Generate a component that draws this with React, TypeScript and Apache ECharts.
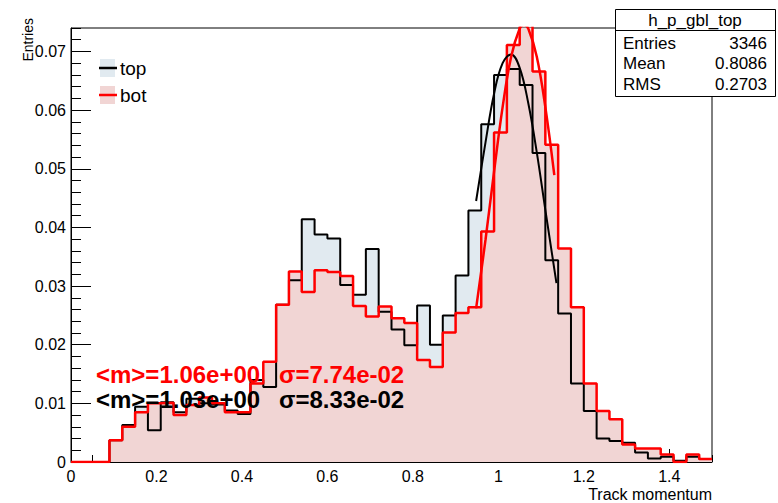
import React, { useEffect, useRef } from "react";
import * as echarts from "echarts";

// Histogram binning (50 bins of 0.03 between 0 and 1.5)
const BIN_WIDTH = 0.03;
const X_MIN = 0;
const X_MAX = 1.5;
const Y_MAX = 0.074;

// Normalised bin contents, "top" histogram (black)
const topValues = [
  0, 0, 0, 0.0037, 0.0063, 0.0094, 0.0054, 0.0102, 0.0085, 0.0108,
  0.0100, 0.0098, 0.0088, 0.0082, 0.0140, 0.0128, 0.0268, 0.0310, 0.0414, 0.0388,
  0.0381, 0.0302, 0.0285, 0.0363, 0.0256, 0.0226, 0.0199, 0.0267, 0.0200, 0.0250,
  0.0318, 0.0429, 0.0576, 0.0660, 0.0670, 0.0643, 0.0527, 0.0344, 0.0253, 0.0134,
  0.0087, 0.0040, 0.0036, 0.0033, 0.0016, 0.0006, 0.0009, 0.0002, 0.0009, 0.0005,
];

// Normalised bin contents, "bot" histogram (red)
const botValues = [
  0, 0, 0, 0.0037, 0.0060, 0.0085, 0.0100, 0.0101, 0.0080, 0.0097,
  0.0110, 0.0100, 0.0085, 0.0085, 0.0134, 0.0171, 0.0268, 0.0325, 0.0290, 0.0327,
  0.0324, 0.0317, 0.0266, 0.0248, 0.0265, 0.0245, 0.0237, 0.0174, 0.0162, 0.0221,
  0.0254, 0.0264, 0.0393, 0.0562, 0.0711, 0.0745, 0.0666, 0.0541, 0.0364, 0.0264,
  0.0134, 0.0087, 0.0073, 0.0030, 0.0023, 0.0023, 0.0013, 0.0000, 0.0013, 0.0005,
];

// Fit curves
const topFitX = [0.948, 0.97, 0.99, 1.01, 1.03, 1.05, 1.07, 1.09, 1.11, 1.136];
const topFitY = [0.0445, 0.0545, 0.0628, 0.068, 0.0695, 0.0672, 0.0612, 0.0528, 0.043, 0.0305];
const botFitX = [0.948, 0.97, 0.99, 1.01, 1.03, 1.05, 1.06, 1.07, 1.09, 1.11, 1.131];
const botFitY = [0.0262, 0.0379, 0.0495, 0.0605, 0.0691, 0.0739, 0.0745, 0.0739, 0.0691, 0.0605, 0.0489];

// Texts
const legendLabels = ["top", "bot"];
const statsTitle = "h_p_gbl_top";
const statsRows = [
  ["Entries", "3346"],
  ["Mean", "0.8086"],
  ["RMS", "0.2703"],
];
const fitTexts = [
  { m: "<m>=1.06e+00", s: "σ=7.74e-02" },
  { m: "<m>=1.03e+00", s: "σ=8.33e-02" },
];
const xTitle = "Track momentum";
const yTitle = "Entries";

const FONT = "'Liberation Sans', Arial, Helvetica, sans-serif";
const TOP_FILL = "#e1eaf0";
const BOT_FILL = "#f1d5d4";
const RED = "#ff0000";

function stepData(vals: number[]) {
  const d: number[][] = vals.map((v, i) => [+(i * BIN_WIDTH).toFixed(4), v]);
  d.push([X_MAX, vals[vals.length - 1]]);
  return d;
}

export default function App() {
  const ref = useRef<HTMLDivElement>(null);
  useEffect(() => {
    if (!ref.current) return;
    const chart = echarts.init(ref.current, undefined, { renderer: "svg" });
    const topData = stepData(topValues);
    const botData = stepData(botValues);
    const axisCommon = {
      axisLine: { show: true, onZero: false, lineStyle: { color: "#000", width: 1 } },
      splitLine: { show: false },
    };
    const graphic: any[] = [];
    // legend
    const legendRows = [
      { y: 68, fill: TOP_FILL, line: "#000" },
      { y: 95, fill: BOT_FILL, line: RED },
    ];
    legendRows.forEach((r, i) => {
      graphic.push({ type: "rect", z: 100, shape: { x: 100, y: r.y - 9, width: 15, height: 18 }, style: { fill: r.fill } });
      graphic.push({ type: "line", z: 101, shape: { x1: 99, y1: r.y, x2: 117, y2: r.y }, style: { stroke: r.line, lineWidth: 2.5 } });
      graphic.push({ type: "text", z: 101, x: 120, y: r.y, style: { text: legendLabels[i], fontSize: 19, fontFamily: FONT, fill: "#000", textVerticalAlign: "middle", textAlign: "left" } });
    });
    // stats box
    graphic.push({ type: "rect", z: 100, shape: { x: 615.5, y: 9.5, width: 160, height: 87 }, style: { fill: "#fff", stroke: "#000", lineWidth: 1 } });
    graphic.push({ type: "line", z: 101, shape: { x1: 615.5, y1: 30.5, x2: 775.5, y2: 30.5 }, style: { stroke: "#000", lineWidth: 1 } });
    graphic.push({ type: "text", z: 101, x: 695, y: 20, style: { text: statsTitle, fontSize: 17, fontFamily: FONT, fill: "#000", textAlign: "center", textVerticalAlign: "middle" } });
    const rowY = [43, 63.5, 84.5];
    statsRows.forEach((r, i) => {
      graphic.push({ type: "text", z: 101, x: 623, y: rowY[i], style: { text: r[0], fontSize: 17, fontFamily: FONT, fill: "#000", textAlign: "left", textVerticalAlign: "middle" } });
      graphic.push({ type: "text", z: 101, x: 767, y: rowY[i], style: { text: r[1], fontSize: 17, fontFamily: FONT, fill: "#000", textAlign: "right", textVerticalAlign: "middle" } });
    });
    // fit texts
    const fitRows = [
      { y: 374, color: RED },
      { y: 399, color: "#000" },
    ];
    fitRows.forEach((r, i) => {
      graphic.push({ type: "text", z: 101, x: 96, y: r.y, style: { text: fitTexts[i].m, fontSize: 24, fontWeight: "bold", fontFamily: FONT, fill: r.color, textAlign: "left", textVerticalAlign: "middle" } });
      graphic.push({ type: "text", z: 101, x: 279, y: r.y, style: { text: fitTexts[i].s, fontSize: 24, fontWeight: "bold", fontFamily: FONT, fill: r.color, textAlign: "left", textVerticalAlign: "middle" } });
    });
    // axis titles
    graphic.push({ type: "text", z: 101, x: 712, y: 494, style: { text: xTitle, fontSize: 16, fontFamily: FONT, fill: "#000", textAlign: "right", textVerticalAlign: "middle" } });
    graphic.push({ type: "text", z: 101, x: 28, y: 18, rotation: Math.PI / 2, style: { text: yTitle, fontSize: 14, fontFamily: FONT, fill: "#000", textAlign: "right", textVerticalAlign: "middle" } });

    chart.setOption({
      animation: false,
      backgroundColor: "#fff",
      grid: { left: 71, top: 28, width: 641, height: 434, show: true, borderColor: "#000", borderWidth: 1, backgroundColor: "transparent" },
      xAxis: [
        {
          type: "value", min: X_MIN, max: X_MAX, interval: 0.2, position: "bottom", ...axisCommon,
          axisTick: { inside: true, length: 13, lineStyle: { color: "#000" } },
          axisLabel: { color: "#000", fontSize: 16, fontFamily: FONT, margin: 6, showMaxLabel: false },
        },
        {
          type: "value", min: X_MIN, max: X_MAX, interval: 0.05, position: "bottom",
          axisLine: { show: false }, splitLine: { show: false }, axisLabel: { show: false },
          axisTick: { inside: true, length: 7, lineStyle: { color: "#000" } },
        },
      ],
      yAxis: [
        {
          type: "value", min: 0, max: Y_MAX, interval: 0.01, position: "left", ...axisCommon,
          axisTick: { inside: true, length: 20, lineStyle: { color: "#000" } },
          axisLabel: { color: "#000", fontSize: 16, fontFamily: FONT, margin: 5, showMaxLabel: false },
        },
        {
          type: "value", min: 0, max: Y_MAX, interval: 0.002, position: "left",
          axisLine: { show: false }, splitLine: { show: false }, axisLabel: { show: false },
          axisTick: { inside: true, length: 10, lineStyle: { color: "#000" } },
        },
      ],
      series: [
        { type: "line", name: "top fill", data: topData, step: "end", showSymbol: false, silent: true, lineStyle: { width: 0 }, areaStyle: { color: TOP_FILL, opacity: 1 }, z: 2 },
        { type: "line", name: "bot fill", data: botData, step: "end", showSymbol: false, silent: true, lineStyle: { width: 0 }, areaStyle: { color: BOT_FILL, opacity: 1 }, z: 3 },
        { type: "line", name: "top", data: topData, step: "end", showSymbol: false, silent: true, lineStyle: { width: 2, color: "#000" }, z: 4 },
        { type: "line", name: "bot", data: botData, step: "end", showSymbol: false, silent: true, lineStyle: { width: 2.5, color: RED }, z: 5 },
        { type: "line", name: "top fit", data: topFitX.map((x, i) => [x, topFitY[i]]), smooth: 0.4, showSymbol: false, silent: true, lineStyle: { width: 2, color: "#000" }, z: 6 },
        { type: "line", name: "bot fit", data: botFitX.map((x, i) => [x, botFitY[i]]), smooth: 0.4, showSymbol: false, silent: true, lineStyle: { width: 2.5, color: RED }, z: 7 },
      ],
      graphic,
    });
    return () => chart.dispose();
  }, []);
  return <div ref={ref} style={{ position: "fixed", left: 0, top: 0, width: 778, height: 503 }} />;
}
